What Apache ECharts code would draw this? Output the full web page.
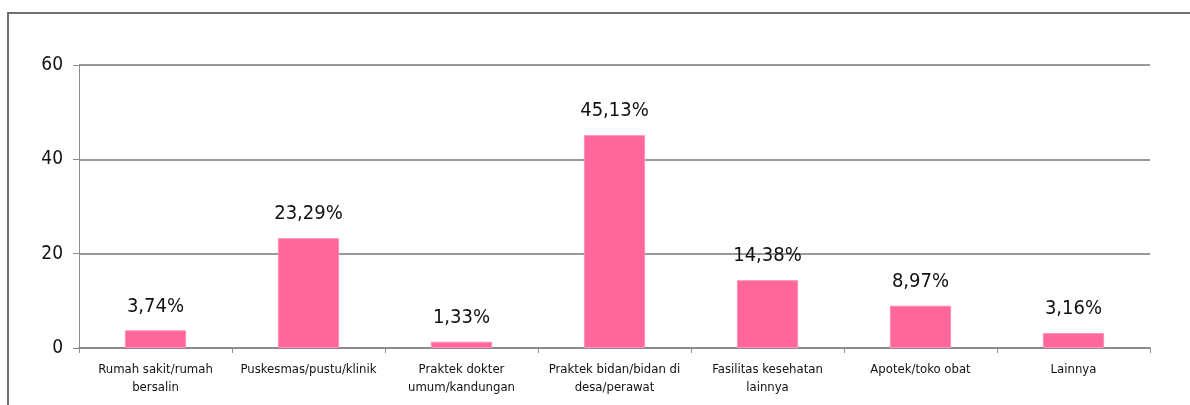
<!DOCTYPE html>
<html>
<head>
<meta charset="utf-8">
<script src="https://cdn.jsdelivr.net/npm/echarts@6/dist/echarts.min.js"></script>
<style>
html, body { margin: 0; padding: 0; background: #fff; }
#frame { position: absolute; left: 7px; top: 12px; width: 1200px; height: 420px; border: 2px solid #707070; box-sizing: border-box; }
#chart { position: absolute; left: 0; top: 0; width: 1190px; height: 405px; }
</style>
</head>
<body>
<div id="frame"></div>
<div id="chart"></div>
<script>
// kategori layanan
var categories = [
	'Rumah sakit/rumah\nbersalin',
	'Puskesmas/pustu/klinik',
	'Praktek dokter\numum/kandungan',
	'Praktek bidan/bidan di\ndesa/perawat',
	'Fasilitas kesehatan\nlainnya',
	'Apotek/toko obat',
	'Lainnya'
];
// persentase
var values = [3.74, 23.29, 1.33, 45.13, 14.38, 8.97, 3.16];
var yTicks = [0, 20, 40, 60];

var font = '"DejaVu Sans Condensed", "Liberation Sans", sans-serif';
var chart = echarts.init(document.getElementById('chart'));

chart.setOption({
	animation : false,
	grid : {
		left : 79,
		right : 40,
		top : 65,
		bottom : 57
	},
	xAxis : {
		type : 'category',
		data : categories,
		axisLine : { lineStyle : { color : '#8c8c8c', width : 2 } },
		axisTick : { show : true, length : 5, lineStyle : { color : '#8c8c8c', width : 1 } },
		axisLabel : {
			color : '#111',
			fontFamily : font,
			fontSize : 13,
			lineHeight : 18,
			margin : 13,
			interval : 0
		}
	},
	yAxis : {
		type : 'value',
		min : yTicks[0],
		max : yTicks[yTicks.length - 1],
		interval : 20,
		axisLine : { show : true, lineStyle : { color : '#8c8c8c', width : 1 } },
		axisTick : { show : true, length : 6, lineStyle : { color : '#8c8c8c' } },
		axisLabel : {
			color : '#111',
			fontFamily : font,
			fontSize : 19,
			margin : 16
		},
		splitLine : { lineStyle : { color : '#999', width : 2 } }
	},
	series : [ {
		type : 'bar',
		data : values,
		barWidth : '40%',
		itemStyle : {
			color : '#ff6699',
			borderColor : '#ff8fb3',
			borderWidth : 1
		},
		label : {
			show : true,
			position : 'top',
			distance : 14,
			color : '#111',
			fontFamily : font,
			fontSize : 20,
			formatter : function(p) {
				return p.value.toFixed(2).replace('.', ',') + '%';
			}
		}
	} ]
});
</script>
</body>
</html>
